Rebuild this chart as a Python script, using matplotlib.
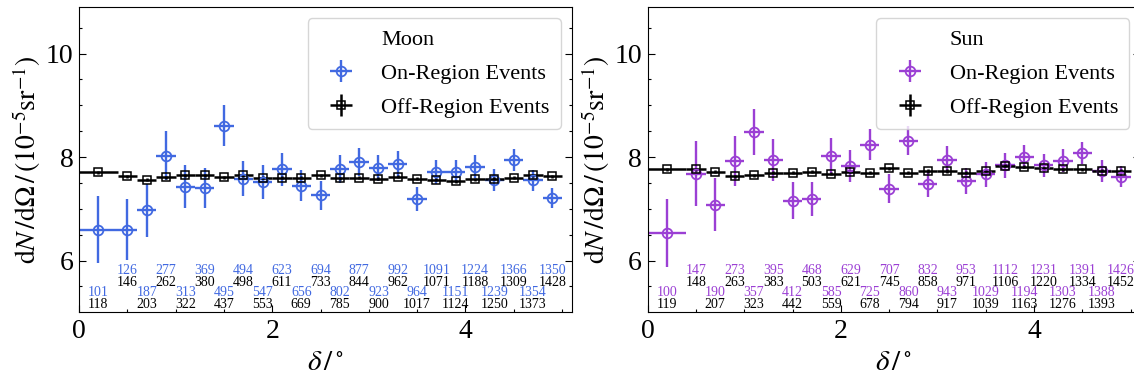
import matplotlib
matplotlib.use("Agg")
import matplotlib.pyplot as plt
import numpy as np

plt.rcParams['font.family'] = ['Liberation Serif', 'DejaVu Serif']
plt.rcParams['mathtext.fontset'] = 'stix'

# bin edges in delta (deg): first bin 0-0.4, then 0.2 wide up to 5.0
edges = np.round(np.r_[0.0, np.arange(0.4, 5.01, 0.2)], 2)
centers = (edges[:-1] + edges[1:]) / 2
half_w = (edges[1:] - edges[:-1]) / 2

# Moon
moon_on = [6.60, 6.60, 6.97, 8.03, 7.43, 7.41, 8.61, 7.58, 7.52, 7.76, 7.45, 7.26,
           7.77, 7.90, 7.79, 7.86, 7.19, 7.71, 7.72, 7.81, 7.55, 7.95, 7.55, 7.21]
moon_off = [7.71, 7.63, 7.56, 7.61, 7.65, 7.65, 7.61, 7.65, 7.60, 7.60, 7.60, 7.65,
            7.59, 7.60, 7.58, 7.62, 7.58, 7.56, 7.53, 7.57, 7.58, 7.60, 7.65, 7.63]
moon_n_on = [101, 126, 187, 277, 313, 369, 495, 494, 547, 623, 656, 694,
             802, 877, 923, 992, 964, 1091, 1151, 1224, 1239, 1366, 1354, 1350]
moon_n_off = [118, 146, 203, 262, 322, 380, 437, 498, 553, 611, 669, 733,
              785, 844, 900, 962, 1017, 1071, 1124, 1188, 1250, 1309, 1373, 1428]

# Sun
sun_on = [6.53, 7.68, 7.08, 7.92, 8.48, 7.94, 7.16, 7.19, 8.03, 7.83, 8.24, 7.39,
          8.32, 7.48, 7.95, 7.54, 7.67, 7.84, 8.00, 7.84, 7.93, 8.08, 7.73, 7.62]
sun_off = [7.76, 7.76, 7.72, 7.63, 7.65, 7.70, 7.70, 7.72, 7.68, 7.72, 7.70, 7.78,
           7.70, 7.73, 7.73, 7.70, 7.74, 7.83, 7.81, 7.78, 7.76, 7.76, 7.74, 7.74]
sun_n_on = [100, 147, 190, 273, 357, 395, 412, 468, 585, 629, 725, 707,
            860, 832, 943, 953, 1029, 1112, 1194, 1231, 1303, 1391, 1388, 1426]
sun_n_off = [119, 148, 207, 263, 323, 383, 442, 503, 559, 621, 678, 745,
             794, 858, 917, 971, 1039, 1106, 1163, 1220, 1276, 1334, 1393, 1452]

off_err = 0.03

panels = [
    ("Moon", "#4169e1", moon_on, moon_off, moon_n_on, moon_n_off),
    ("Sun", "#9b3fd4", sun_on, sun_off, sun_n_on, sun_n_off),
]

fig = plt.figure(figsize=(11.34, 3.79), dpi=100)
axes = [fig.add_axes([0.0697, 0.176, 0.4344, 0.8055]),
        fig.add_axes([0.5711, 0.176, 0.4344, 0.8055])]

for ax, (name, col, on, off, n_on, n_off) in zip(axes, panels):
    on = np.array(on)
    on_err = on / np.sqrt(np.array(n_on))

    ax.plot([], [], ' ', label=name)
    ax.errorbar(centers, on, xerr=half_w, yerr=on_err, fmt='o', color=col,
                mfc='none', ms=7, mew=1.3, elinewidth=1.7, capsize=0,
                label="On-Region Events")
    ax.errorbar(centers, off, xerr=half_w, yerr=off_err, fmt='s', color='black',
                mfc='none', ms=5.5, mew=1.1, elinewidth=1.8, capsize=0,
                label="Off-Region Events")

    # event counts per bin, alternating between two rows
    for i in range(len(centers)):
        if i % 2 == 1:
            y1, y2 = 5.80, 5.58
        else:
            y1, y2 = 5.38, 5.16
        ax.text(centers[i], y1, str(n_on[i]), color=col, fontsize=10,
                ha='center', va='center')
        ax.text(centers[i], y2, str(n_off[i]), color='black', fontsize=10,
                ha='center', va='center')

    ax.set_xlim(0, 5.1)
    ax.set_ylim(5, 10.9)
    ax.set_xticks([0, 2, 4])
    ax.set_yticks([6, 8, 10])
    ax.set_xticks(np.arange(0.5, 5.1, 0.5), minor=True)
    ax.set_yticks(np.arange(5.5, 10.9, 0.5), minor=True)
    ax.tick_params(which='both', direction='in', right=True, top=False,
                   labelsize=20)
    ax.tick_params(which='major', length=5, width=0.8)
    ax.tick_params(which='minor', length=2.5, width=0.8)
    ax.tick_params(axis='x', pad=5)
    ax.tick_params(axis='y', pad=4)
    for s in ax.spines.values():
        s.set_linewidth(0.8)

    ax.set_xlabel(r'$\delta\,/\,^{\circ}$', fontsize=21, labelpad=4)
    ax.set_ylabel(r'$\mathrm{d}N\,/\mathrm{d}\Omega\,/\,(10^{-5}\mathrm{sr}^{-1})$',
                  fontsize=20, labelpad=2)
    ax.legend(loc='upper right', fontsize=16, handlelength=2.0,
              borderpad=0.5, labelspacing=0.6)

fig.savefig("out.png", dpi=100)
